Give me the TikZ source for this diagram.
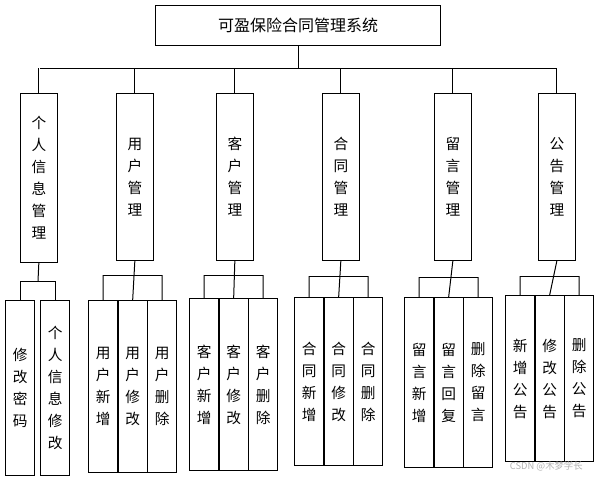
\documentclass[tikz,border=0pt]{standalone}
\usepackage{fontspec}
\newfontfamily\cjk{Noto Sans CJK SC}
\begin{document}
\begin{tikzpicture}[x=0.75pt,y=-0.75pt,line width=0.75pt,
  vbox/.style={draw,minimum width=27.5pt,anchor=north west,inner sep=0pt,align=center,font=\cjk\fontsize{11}{16.5}\selectfont},
  lbox/.style={draw,minimum width=22pt,anchor=north west,inner sep=0pt,align=center,font=\cjk\fontsize{11}{16.5}\selectfont}]
\useasboundingbox (0,0) rectangle (603,479);
\node[draw,anchor=north west,minimum width=213.75pt,minimum height=30pt,font=\cjk\fontsize{12}{14}\selectfont] (top) at (155,5) {可盈保险合同管理系统};
% level 2
\node[vbox,minimum height=126.75pt] (a) at (20,93) {个\\人\\信\\息\\管\\理};
\node[vbox,minimum height=125.25pt] (b) at (116,93) {用\\户\\管\\理};
\node[vbox,minimum height=125.25pt] (c) at (216,93) {客\\户\\管\\理};
\node[vbox,minimum height=125.25pt] (d) at (322,93) {合\\同\\管\\理};
\node[vbox,minimum height=125.25pt] (e) at (434,93) {留\\言\\管\\理};
\node[vbox,minimum height=125.25pt] (f) at (538,93) {公\\告\\管\\理};
\coordinate (hl) at (40,68); \coordinate (hr) at (557,68);
\draw (top.south) -- (top.south |- hl);
\draw (hl) -- (hr);
\foreach \n in {a,b,c,d,e,f} \draw (\n.north |- hl) -- (\n.north);
% level 3 group 1
\node[lbox,minimum height=131.25pt] (a1) at (5,300) {修\\改\\密\\码};
\node[lbox,minimum height=131.25pt] (a2) at (40,300) {个\\人\\信\\息\\修\\改};
\coordinate (ja) at (38,281);
\draw (a.south) -- (ja); \draw (a1.north |- ja) -- (a2.north |- ja);
\draw (a1.north |- ja) -- (a1.north); \draw (a2.north |- ja) -- (a2.north);
% generic groups
\newcommand\grp[8]{%
 \node[lbox,minimum height=#3] (#1x) at (#2,#4) {#6};
 \node[lbox,minimum height=#3] (#1y) at (#2+29.5,#4) {#7};
 \node[lbox,minimum height=#3] (#1z) at (#2+59,#4) {#8};
 \coordinate (#1j) at (#2+15,#5); \coordinate (#1k) at (#2+74,#5);
 \draw (#1.south) -- (#1y.north);
 \draw (#1j) -- (#1k);
 \draw (#1j) -- (#1x.north); \draw (#1k) -- (#1z.north);}
\grp{b}{88}{129pt}{300}{275}{用\\户\\新\\增}{用\\户\\修\\改}{用\\户\\删\\除}
\grp{c}{189}{129pt}{298}{275}{客\\户\\新\\增}{客\\户\\修\\改}{客\\户\\删\\除}
\grp{d}{294}{126pt}{297}{276}{合\\同\\新\\增}{合\\同\\修\\改}{合\\同\\删\\除}
\grp{e}{404}{127.5pt}{297}{277}{留\\言\\新\\增}{留\\言\\回\\复}{删\\除\\留\\言}
\grp{f}{505}{124.5pt}{295}{276}{新\\增\\公\\告}{修\\改\\公\\告}{删\\除\\公\\告}
\node[text=gray!60,font=\cjk\fontsize{7}{8}\selectfont,anchor=west] (wm) at (505,466) {CSDN @木梦学长};
\end{tikzpicture}
\end{document}
